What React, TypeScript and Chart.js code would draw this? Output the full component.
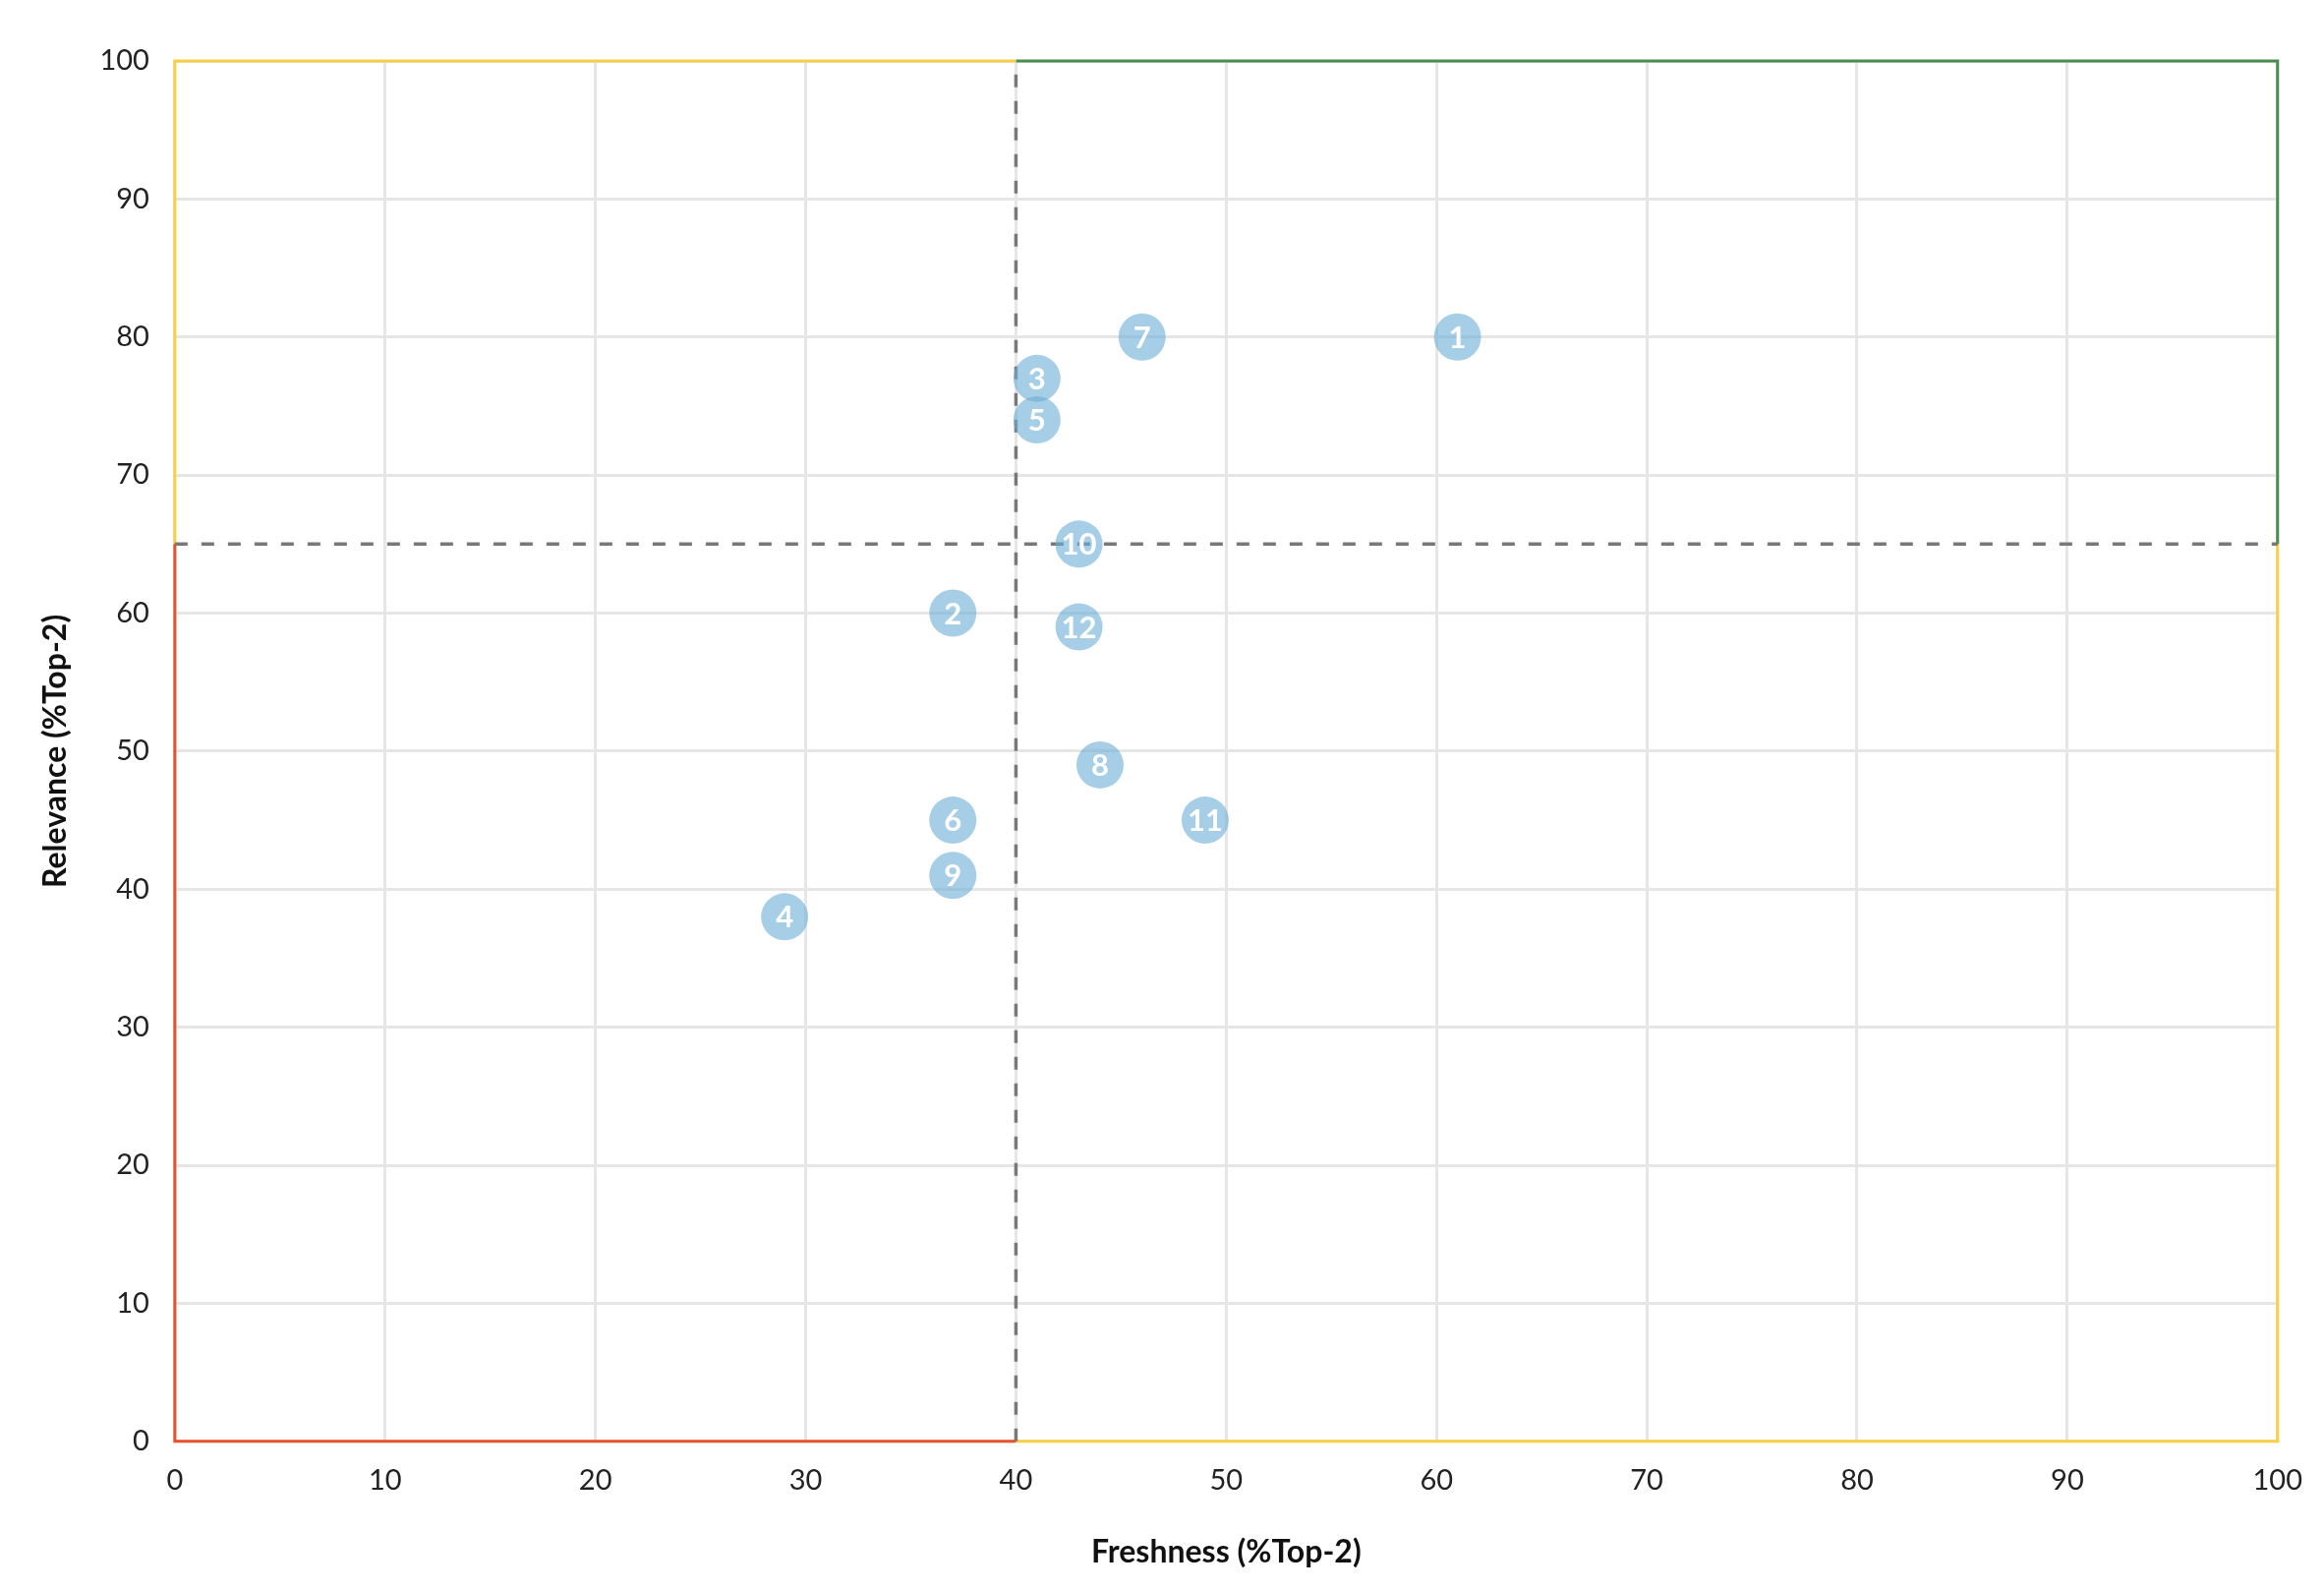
import { useEffect, useRef } from "react";
import { Chart, registerables, Plugin } from "chart.js";

Chart.register(...registerables);

// brand scores, one entry per numbered bubble
const brandIds = ["1", "2", "3", "4", "5", "6", "7", "8", "9", "10", "11", "12"];
const freshness = [61, 37, 41, 29, 41, 37, 46, 44, 37, 43, 49, 43];
const relevance = [80, 60, 77, 38, 74, 45, 80, 49, 41, 65, 45, 59];

const tickValues = [0, 10, 20, 30, 40, 50, 60, 70, 80, 90, 100];
const axisMin = 0;
const axisMax = 100;
const freshnessSplit = 40;
const relevanceSplit = 65;

const YELLOW = "#f8cf46";
const GREEN = "#4a8b4f";
const RED = "#e9522b";
const FONT = "Lato, 'Open Sans', sans-serif";

// quadrant outlines, built from the split values and axis limits
const topLeftEdge = [
  { x: axisMin, y: relevanceSplit },
  { x: axisMin, y: axisMax },
  { x: freshnessSplit, y: axisMax },
];
const topRightEdge = [
  { x: freshnessSplit, y: axisMax },
  { x: axisMax, y: axisMax },
  { x: axisMax, y: relevanceSplit },
];
const bottomRightEdge = [
  { x: axisMax, y: relevanceSplit },
  { x: axisMax, y: axisMin },
  { x: freshnessSplit, y: axisMin },
];
const bottomLeftEdge = [
  { x: freshnessSplit, y: axisMin },
  { x: axisMin, y: axisMin },
  { x: axisMin, y: relevanceSplit },
];
const verticalSplit = [
  { x: freshnessSplit, y: axisMin },
  { x: freshnessSplit, y: axisMax },
];
const horizontalSplit = [
  { x: axisMin, y: relevanceSplit },
  { x: axisMax, y: relevanceSplit },
];

const bubbleLabels: Plugin<"scatter"> = {
  id: "bubbleLabels",
  afterDatasetsDraw(chart) {
    const ctx = chart.ctx;
    const meta = chart.getDatasetMeta(0);
    ctx.save();
    ctx.fillStyle = "#ffffff";
    ctx.font = `bold 31px ${FONT}`;
    ctx.textAlign = "center";
    ctx.textBaseline = "middle";
    meta.data.forEach((pt, i) => {
      ctx.fillText(brandIds[i], pt.x, pt.y + 1);
    });
    ctx.restore();
  },
};

function edge(data: { x: number; y: number }[], color: string, dashed = false) {
  return {
    data,
    showLine: true,
    borderColor: color,
    borderWidth: dashed ? 3.5 : 3,
    borderDash: dashed ? [13, 14] : [],
    pointRadius: 0,
    pointHoverRadius: 0,
    fill: false,
    tension: 0,
    clip: false as const,
    order: dashed ? 1 : 2,
  };
}

const App = () => {
  const canvasRef = useRef<HTMLCanvasElement | null>(null);
  const chartRef = useRef<Chart | null>(null);

  useEffect(() => {
    document.body.style.margin = "0";
    if (chartRef.current) chartRef.current.destroy();
    if (!canvasRef.current) return;
    const ctx = canvasRef.current.getContext("2d");
    if (!ctx) return;

    const points = freshness.map((x, i) => ({ x, y: relevance[i] }));

    chartRef.current = new Chart(ctx, {
      type: "scatter",
      data: {
        datasets: [
          {
            data: points,
            backgroundColor: "rgba(107, 174, 214, 0.6)",
            borderWidth: 0,
            pointRadius: 24,
            pointHoverRadius: 24,
            order: 0,
          },
          edge(topLeftEdge, YELLOW),
          edge(topRightEdge, GREEN),
          edge(bottomRightEdge, YELLOW),
          edge(bottomLeftEdge, RED),
          edge(verticalSplit, "#787878", true),
          edge(horizontalSplit, "#787878", true),
        ],
      },
      options: {
        animation: false,
        responsive: true,
        maintainAspectRatio: false,
        layout: { padding: { top: 62, right: 33, bottom: 16, left: 32 } },
        plugins: {
          legend: { display: false },
          tooltip: { enabled: false },
        },
        scales: {
          x: {
            type: "linear",
            min: axisMin,
            max: axisMax,
            afterBuildTicks: (axis) => {
              axis.ticks = tickValues.map((v) => ({ value: v }));
            },
            grid: { color: "#e6e6e6", lineWidth: 3, drawTicks: false },
            border: { display: false },
            ticks: { color: "#222", font: { family: FONT, size: 29 }, padding: 22, maxRotation: 0 },
            title: {
              display: true,
              text: "Freshness (%Top-2)",
              color: "#111",
              font: { family: FONT, size: 32, weight: "bold" },
              padding: { top: 15, bottom: 4 },
            },
          },
          y: {
            type: "linear",
            min: axisMin,
            max: axisMax,
            afterBuildTicks: (axis) => {
              axis.ticks = tickValues.map((v) => ({ value: v }));
            },
            grid: { color: "#e6e6e6", lineWidth: 3, drawTicks: false },
            border: { display: false },
            ticks: { color: "#222", font: { family: FONT, size: 29 }, padding: 26 },
            title: {
              display: true,
              text: "Relevance (%Top-2)",
              color: "#111",
              font: { family: FONT, size: 32, weight: "bold" },
              padding: { top: 5, bottom: 0 },
            },
          },
        },
      },
      plugins: [bubbleLabels],
    });

    return () => {
      if (chartRef.current) {
        chartRef.current.destroy();
        chartRef.current = null;
      }
    };
  }, []);

  return (
    <div style={{ width: 2364, height: 1618, position: "relative", background: "#fff" }}>
      <canvas ref={canvasRef}></canvas>
    </div>
  );
};

export default App;
